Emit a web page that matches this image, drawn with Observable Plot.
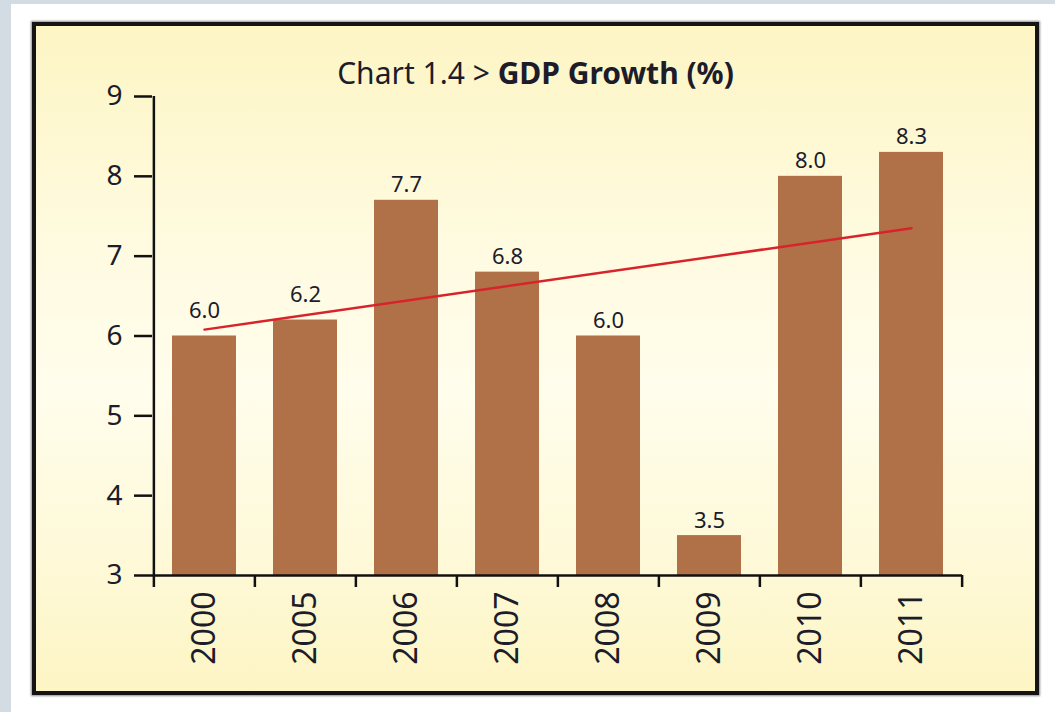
<!DOCTYPE html>
<html><head><meta charset="utf-8">
<script src="https://cdn.jsdelivr.net/npm/d3@7"></script>
<script src="https://cdn.jsdelivr.net/npm/@observablehq/plot@0.6"></script>
<style>
html,body{margin:0;padding:0;}
body{width:1055px;height:712px;background:#d3dce2;position:relative;overflow:hidden;font-family:"Noto Sans",sans-serif;}
#paper{position:absolute;left:11px;top:4px;right:0;bottom:0;background:#fff;}
#box{position:absolute;left:32px;top:22px;width:1007px;height:673px;box-sizing:border-box;border:4px solid #141414;box-shadow:0 0 2px 1px rgba(0,0,0,.45);
 background:linear-gradient(to bottom,#fdf5c4 0%,#fffbe2 35%,#fffdec 55%,#fef9d8 80%,#fdf5c4 100%);}
#title{position:absolute;left:0;right:0;top:32px;text-align:center;font-size:30px;line-height:1;color:#1c1c2a;white-space:nowrap;}
#title b{font-weight:700;}
#chart{position:absolute;left:0;top:0;}
</style></head>
<body>
<div id="paper"></div>
<div id="box"><div id="title">Chart 1.4 &gt; <b>GDP Growth (%)</b></div><div id="chart"></div></div>
<script>
const years = ["2000","2005","2006","2007","2008","2009","2010","2011"];
const growth = [6.0, 6.2, 7.7, 6.8, 6.0, 3.5, 8.0, 8.3];
const yTicks = [3, 4, 5, 6, 7, 8, 9];
const trendYears = ["2000", "2011"];
const trendValues = [6.08, 7.35];

const W = 999, H = 665, ML = 116, MR = 73, MT = 70, MB = 116;
const step = (W - ML - MR) / years.length;
const data = years.map((year, i) => ({year, value: growth[i]}));
const trend = trendYears.map((year, i) => ({year, value: trendValues[i]}));
const raised = ["2000", "2005"];
const ink = "#111";
const textInk = "#1c1c2a";

const chart = Plot.plot({
  width: W, height: H,
  marginLeft: ML, marginRight: MR, marginTop: MT, marginBottom: MB,
  style: {background: "transparent", fontFamily: "'Noto Sans', sans-serif", color: textInk, overflow: "visible"},
  x: {type: "band", domain: years, paddingInner: 0.37, paddingOuter: 0.185, label: null},
  y: {domain: [3, 9], label: null},
  marks: [
    Plot.barY(data, {x: "year", y1: 3, y2: "value", fill: "#b07149"}),
    Plot.ruleY([3], {stroke: ink, strokeWidth: 2.5}),
    Plot.ruleX([years[0]], {y1: 3, y2: 9, dx: -step / 2, stroke: ink, strokeWidth: 2.5}),
    Plot.axisY({ticks: yTicks, tickFormat: d => d, tickSize: 18, tickPadding: 12, fontSize: 28, stroke: ink, strokeWidth: 2.5, fill: textInk}),
    Plot.axisX({tickSize: 12, dx: -step / 2, text: null, stroke: ink, strokeWidth: 2.5}),
    Plot.axisX([years[years.length - 1]], {tickSize: 12, dx: step / 2, text: null, stroke: ink, strokeWidth: 2.5}),
    Plot.axisX({tickSize: 0, tickRotate: -90, tickPadding: 16, fontSize: 32, fill: textInk}),
    Plot.line(trend, {x: "year", y: "value", stroke: "#d8232a", strokeWidth: 2.5}),
    Plot.text(data, {filter: d => !raised.includes(d.year), x: "year", y: "value", text: d => d.value.toFixed(1), lineAnchor: "bottom", dy: -8, fontSize: 22, fill: textInk}),
    Plot.text(data, {filter: d => raised.includes(d.year), x: "year", y: "value", text: d => d.value.toFixed(1), lineAnchor: "bottom", dy: -18, fontSize: 22, fill: textInk})
  ]
});
document.getElementById("chart").appendChild(chart);
</script>
</body></html>
